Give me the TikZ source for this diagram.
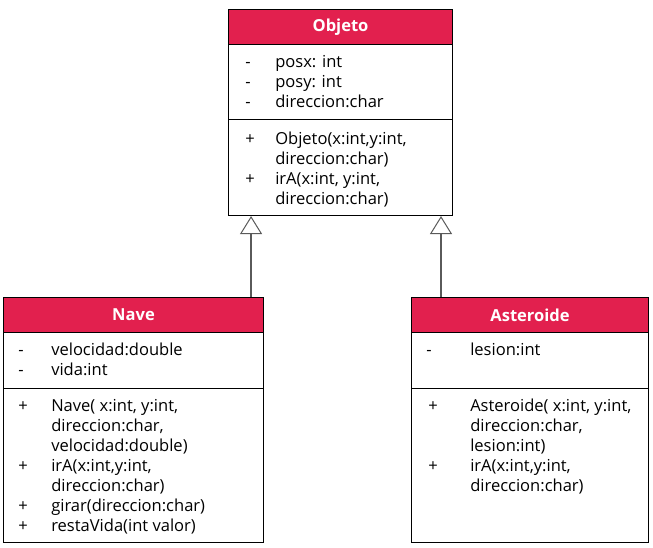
\documentclass[tikz,border=0pt]{standalone}
\usepackage{fontspec}
\setmainfont{Open Sans}
\usetikzlibrary{arrows.meta}
\definecolor{umlred}{RGB}{226,32,78}
\definecolor{inhgray}{RGB}{90,90,90}

\begin{document}
\begin{tikzpicture}[x=0.75pt, y=-0.75pt,
  hdr/.style={draw, fill=umlred, text=white, line width=0.8pt,
              font=\fontsize{12.4}{15}\selectfont\bfseries, inner sep=0pt,
              minimum width=#1, minimum height=26.25pt, anchor=north west},
  sec/.style 2 args={draw, line width=0.8pt, inner sep=0pt,
              minimum width=#1, minimum height=#2, anchor=north west},
  mem/.style={anchor=north west, inner sep=0pt, font=\fontsize{12.4}{15}\selectfont},
  inh/.style={draw=inhgray, line width=1.5pt,
              -{Triangle[length=13.5pt, width=16.5pt, fill=white, line width=0.75pt]}},
]
\useasboundingbox (0,0) rectangle (653,548);

\node[hdr=168pt]               (objH) at (228,9)   {Objeto};
\node[sec={168pt}{56.25pt}]    (objA) at (228,44)  {};
\node[sec={168pt}{72pt}]       (objM) at (228,119) {};
\node[mem] (objAt) at (245,53) {\begin{tabular}{@{}p{22.5pt}@{}l@{}}
  - & posx: int\\ - & posy: int\\ - & direccion:char\end{tabular}};
\node[mem] (objMt) at (245,130) {\begin{tabular}{@{}p{22.5pt}@{}l@{}}
  + & Objeto(x:int,y:int,\\ & direccion:char)\\
  + & irA(x:int, y:int,\\ & direccion:char)\end{tabular}};

\node[hdr=195pt]               (navH) at (3,297) {Nave};
\node[sec={195pt}{42pt}]       (navA) at (3,332) {};
\node[sec={195pt}{115.5pt}]    (navM) at (3,388) {};
\node[mem] (navAt) at (18,341) {\begin{tabular}{@{}p{24.75pt}@{}l@{}}
  - & velocidad:double\\ - & vida:int\end{tabular}};
\node[mem] (navMt) at (18,397) {\begin{tabular}{@{}p{24.75pt}@{}l@{}}
  + & Nave( x:int, y:int,\\ & direccion:char,\\ & velocidad:double)\\
  + & irA(x:int,y:int,\\ & direccion:char)\\
  + & girar(direccion:char)\\
  + & restaVida(int valor)\end{tabular}};

\node[hdr=177.75pt]            (astH) at (411,297) {Asteroide};
\node[sec={177.75pt}{42pt}]    (astA) at (411,332) {};
\node[sec={177.75pt}{115.5pt}] (astM) at (411,388) {};
\node[mem] (astAt) at (426,341) {\begin{tabular}{@{}p{33pt}@{}l@{}}
  - & lesion:int\end{tabular}};
\node[mem] (astMt) at (428,397) {\begin{tabular}{@{}p{31.5pt}@{}l@{}}
  + & Asteroide( x:int, y:int,\\ & direccion:char,\\ & lesion:int)\\
  + & irA(x:int,y:int,\\ & direccion:char)\end{tabular}};

\draw[inh] ([xshift=-9.75pt]navH.north east) -- ([xshift=-9.75pt]navH.north east |- objM.south);
\draw[inh] ([xshift=22.5pt]astH.north west) -- ([xshift=22.5pt]astH.north west |- objM.south);
\end{tikzpicture}
\end{document}
